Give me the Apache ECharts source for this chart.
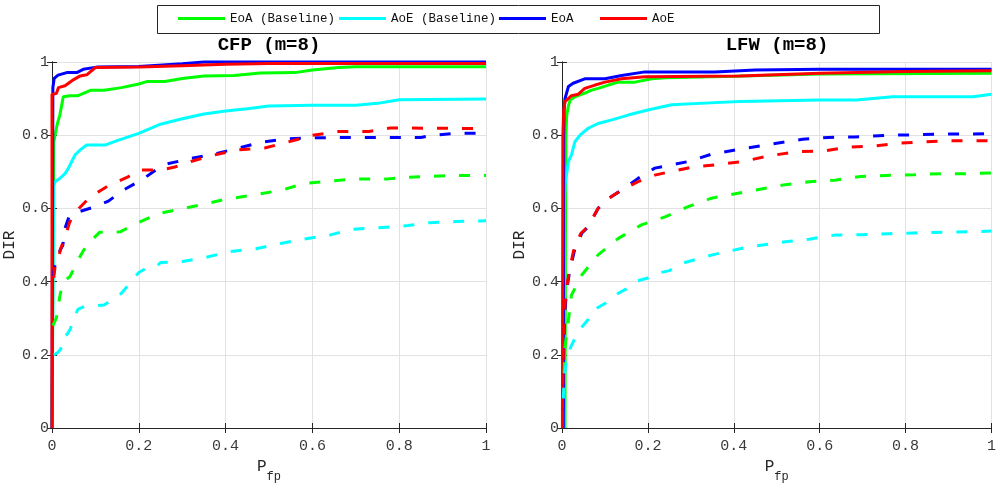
<!DOCTYPE html>
<html>
<head>
<meta charset="utf-8">
<title>DIR vs Pfp</title>
<style>
  html, body { margin: 0; padding: 0; background: #fff; }
  #chart { width: 999px; height: 491px; }
</style>
<script src="https://cdn.jsdelivr.net/npm/echarts@6/dist/echarts.min.js"></script>
</head>
<body>
<div id="chart"></div>
<script>
const seriesNames = ['EoA (Baseline)', 'AoE (Baseline)', 'EoA', 'AoE']
const seriesColors = ['#00ff00', '#00ffff', '#0000ff', '#ff0000']
const panelTitles = ['CFP (m=8)', 'LFW (m=8)']
const axisMin = 0
const axisMax = 1
const tickStep = 0.2

// CFP, solid curves
const cfpEoaBase = [[0, 0], [0.004, 0.78], [0.007, 0.80], [0.012, 0.83], [0.018, 0.855], [0.022, 0.88], [0.026, 0.905], [0.04, 0.908], [0.06, 0.908], [0.09, 0.923], [0.12, 0.923], [0.16, 0.93], [0.2, 0.94], [0.22, 0.947], [0.26, 0.947], [0.3, 0.955], [0.35, 0.962], [0.42, 0.963], [0.48, 0.97], [0.56, 0.971], [0.6, 0.978], [0.66, 0.985], [0.7, 0.987], [1, 0.987]]
const cfpAoeBase = [[0, 0], [0.004, 0.66], [0.007, 0.673], [0.018, 0.682], [0.03, 0.695], [0.038, 0.71], [0.053, 0.746], [0.065, 0.76], [0.08, 0.773], [0.122, 0.773], [0.15, 0.785], [0.2, 0.805], [0.25, 0.83], [0.3, 0.845], [0.35, 0.858], [0.4, 0.866], [0.45, 0.872], [0.5, 0.88], [0.6, 0.882], [0.7, 0.882], [0.75, 0.887], [0.8, 0.897], [1, 0.899]]
const cfpEoa = [[0, 0], [0.002, 0.93], [0.005, 0.955], [0.014, 0.964], [0.034, 0.971], [0.057, 0.971], [0.072, 0.98], [0.103, 0.986], [0.2, 0.988], [0.3, 0.995], [0.35, 1], [1, 1]]
const cfpAoe = [[0, 0], [0, 0.912], [0.01, 0.914], [0.015, 0.93], [0.03, 0.935], [0.05, 0.952], [0.065, 0.962], [0.08, 0.965], [0.1, 0.985], [0.2, 0.986], [0.3, 0.99], [0.4, 0.994], [0.5, 0.996], [1, 0.996]]
// CFP, dashed curves
const cfpEoaBaseDash = [[0.002, 0.28], [0.01, 0.3], [0.018, 0.36], [0.025, 0.4], [0.041, 0.413], [0.06, 0.459], [0.08, 0.5], [0.11, 0.535], [0.157, 0.536], [0.2, 0.562], [0.249, 0.587], [0.295, 0.598], [0.341, 0.609], [0.4, 0.625], [0.46, 0.636], [0.53, 0.65], [0.58, 0.668], [0.64, 0.675], [0.7, 0.68], [0.77, 0.68], [0.82, 0.685], [0.88, 0.688], [0.93, 0.69], [1, 0.69]]
const cfpAoeBaseDash = [[0.004, 0.2], [0.012, 0.205], [0.02, 0.215], [0.025, 0.25], [0.035, 0.256], [0.042, 0.27], [0.05, 0.3], [0.06, 0.325], [0.075, 0.332], [0.12, 0.336], [0.16, 0.368], [0.2, 0.425], [0.215, 0.435], [0.24, 0.44], [0.25, 0.452], [0.3, 0.455], [0.35, 0.465], [0.41, 0.482], [0.47, 0.49], [0.53, 0.505], [0.58, 0.516], [0.64, 0.527], [0.69, 0.543], [0.75, 0.547], [0.82, 0.553], [0.87, 0.561], [0.93, 0.564], [1, 0.566]]
const cfpEoaDash = [[0.003, 0.415], [0.006, 0.44], [0.015, 0.477], [0.025, 0.5], [0.03, 0.546], [0.04, 0.58], [0.06, 0.59], [0.1, 0.605], [0.13, 0.62], [0.164, 0.65], [0.207, 0.678], [0.256, 0.719], [0.322, 0.737], [0.38, 0.75], [0.43, 0.765], [0.48, 0.78], [0.54, 0.79], [0.6, 0.793], [0.7, 0.794], [0.85, 0.794], [0.88, 0.8], [0.93, 0.805], [1, 0.805]]
const cfpAoeDash = [[0.004, 0.41], [0.007, 0.44], [0.012, 0.45], [0.02, 0.49], [0.03, 0.52], [0.04, 0.56], [0.05, 0.585], [0.076, 0.617], [0.1, 0.64], [0.127, 0.66], [0.175, 0.686], [0.2, 0.705], [0.25, 0.705], [0.283, 0.713], [0.32, 0.728], [0.37, 0.745], [0.43, 0.76], [0.49, 0.765], [0.54, 0.78], [0.6, 0.8], [0.66, 0.81], [0.73, 0.81], [0.78, 0.82], [1, 0.818]]

// LFW, solid curves
const lfwEoaBase = [[0.007, 0], [0.008, 0.5], [0.009, 0.8], [0.011, 0.855], [0.015, 0.88], [0.019, 0.896], [0.03, 0.905], [0.053, 0.915], [0.069, 0.923], [0.084, 0.928], [0.108, 0.937], [0.131, 0.945], [0.17, 0.945], [0.209, 0.954], [0.24, 0.957], [0.4, 0.961], [0.6, 0.967], [1, 0.969]]
const lfwAoeBase = [[0.004, 0], [0.005, 0.6], [0.007, 0.664], [0.015, 0.728], [0.022, 0.746], [0.03, 0.782], [0.042, 0.8], [0.061, 0.819], [0.084, 0.832], [0.116, 0.842], [0.154, 0.855], [0.2, 0.869], [0.255, 0.883], [0.356, 0.889], [0.414, 0.892], [0.6, 0.896], [0.685, 0.896], [0.77, 0.905], [0.957, 0.905], [1, 0.912]]
const lfwEoa = [[0.003, 0], [0.004, 0.8], [0.005, 0.87], [0.007, 0.9], [0.015, 0.933], [0.026, 0.942], [0.053, 0.954], [0.1, 0.954], [0.139, 0.963], [0.193, 0.973], [0.356, 0.973], [0.45, 0.978], [0.6, 0.98], [1, 0.98]]
const lfwAoe = [[0.001, 0], [0.002, 0.8], [0.004, 0.87], [0.007, 0.892], [0.022, 0.908], [0.038, 0.912], [0.053, 0.928], [0.077, 0.937], [0.1, 0.945], [0.139, 0.954], [0.193, 0.96], [0.414, 0.962], [0.6, 0.969], [0.8, 0.974], [1, 0.976]]
// LFW, dashed curves
const lfwEoaBaseDash = [[0.005, 0.15], [0.007, 0.222], [0.015, 0.295], [0.022, 0.363], [0.046, 0.418], [0.084, 0.473], [0.131, 0.518], [0.185, 0.555], [0.24, 0.577], [0.294, 0.605], [0.348, 0.628], [0.43, 0.646], [0.515, 0.664], [0.575, 0.673], [0.635, 0.677], [0.695, 0.687], [0.755, 0.69], [0.82, 0.692], [0.885, 0.695], [0.945, 0.695], [1, 0.697]]
const lfwAoeBaseDash = [[0.003, 0.08], [0.005, 0.14], [0.01, 0.18], [0.02, 0.22], [0.03, 0.245], [0.042, 0.27], [0.06, 0.295], [0.07, 0.32], [0.1, 0.34], [0.123, 0.363], [0.15, 0.38], [0.17, 0.4], [0.2, 0.41], [0.223, 0.423], [0.25, 0.43], [0.28, 0.45], [0.31, 0.46], [0.35, 0.473], [0.43, 0.494], [0.52, 0.509], [0.575, 0.516], [0.635, 0.527], [0.7, 0.528], [0.76, 0.531], [0.82, 0.533], [0.885, 0.535], [0.945, 0.536], [1, 0.538]]
const lfwEoaDash = [[0.002, 0.05], [0.004, 0.2], [0.006, 0.3], [0.01, 0.37], [0.018, 0.43], [0.03, 0.49], [0.046, 0.532], [0.061, 0.55], [0.084, 0.6], [0.108, 0.627], [0.139, 0.65], [0.177, 0.682], [0.216, 0.71], [0.294, 0.728], [0.348, 0.748], [0.43, 0.765], [0.5, 0.778], [0.56, 0.789], [0.62, 0.794], [0.68, 0.795], [0.76, 0.8], [0.82, 0.801], [0.88, 0.803], [0.95, 0.803], [1, 0.804]]
const lfwAoeDash = [[0.001, 0.05], [0.003, 0.2], [0.005, 0.3], [0.009, 0.37], [0.017, 0.43], [0.028, 0.49], [0.044, 0.532], [0.06, 0.55], [0.084, 0.6], [0.108, 0.627], [0.139, 0.65], [0.177, 0.673], [0.216, 0.691], [0.255, 0.701], [0.309, 0.714], [0.365, 0.72], [0.42, 0.728], [0.48, 0.743], [0.545, 0.755], [0.61, 0.757], [0.665, 0.767], [0.73, 0.771], [0.785, 0.778], [0.84, 0.782], [0.905, 0.785], [1, 0.785]]

const panels = [
  { solid: [cfpEoaBase, cfpAoeBase, cfpEoa, cfpAoe], dashed: [cfpEoaBaseDash, cfpAoeBaseDash, cfpEoaDash, cfpAoeDash] },
  { solid: [lfwEoaBase, lfwAoeBase, lfwEoa, lfwAoe], dashed: [lfwEoaBaseDash, lfwAoeBaseDash, lfwEoaDash, lfwAoeDash] }
]

const mono = 'Liberation Mono'
const ink = '#262626'
const grids = [
  { left: 52, top: 62, width: 434, height: 366 },
  { left: 562, top: 62, width: 430, height: 366 }
]
const legendLeft = [178, 339, 499, 600]

function valueAxis (gridIndex, position, main) {
  return {
    type: 'value',
    gridIndex: gridIndex,
    position: position,
    min: axisMin,
    max: axisMax,
    interval: tickStep,
    axisLine: { show: true, lineStyle: { color: ink, width: 1 } },
    axisTick: { show: true, inside: true, length: 5, lineStyle: { color: ink } },
    axisLabel: {
      show: main,
      margin: position === 'bottom' ? 11 : 3,
      fontFamily: mono,
      fontSize: 15,
      color: '#3a3a3a'
    },
    splitLine: { show: main, lineStyle: { color: '#e2e2e2', width: 1 } }
  }
}

const xAxes = []
const yAxes = []
grids.forEach((g, i) => {
  const bottom = valueAxis(i, 'bottom', true)
  bottom.name = '{p|P}{s|fp}'
  bottom.nameLocation = 'middle'
  bottom.nameGap = 31
  bottom.nameTextStyle = {
    rich: {
      p: { fontFamily: mono, fontSize: 16, color: ink, padding: [0, 0, 10, 0] },
      s: { fontFamily: mono, fontSize: 12, color: ink, padding: [10, 0, 0, 0] }
    }
  }
  xAxes.push(bottom, valueAxis(i, 'top', false))
  const left = valueAxis(i, 'left', true)
  left.name = 'DIR'
  left.nameLocation = 'middle'
  left.nameGap = 33
  left.nameTextStyle = { fontFamily: mono, fontSize: 16, color: ink }
  yAxes.push(left, valueAxis(i, 'right', false))
})

const series = []
panels.forEach((p, i) => {
  ['solid', 'dashed'].forEach(kind => {
    p[kind].forEach((data, k) => {
      series.push({
        name: seriesNames[k],
        type: 'line',
        xAxisIndex: i * 2,
        yAxisIndex: i * 2,
        data: data,
        symbol: 'none',
        showSymbol: false,
        clip: false,
        color: seriesColors[k],
        lineStyle: { width: 3, color: seriesColors[k], type: kind === 'solid' ? 'solid' : [11, 14] },
        emphasis: { disabled: true }
      })
    })
  })
})

const option = {
  backgroundColor: '#fff',
  animation: false,
  title: panelTitles.map((t, i) => ({
    text: t,
    left: grids[i].left + grids[i].width / 2,
    top: 36,
    textAlign: 'center',
    padding: 0,
    textStyle: { fontFamily: mono, fontWeight: 'bold', fontSize: 19, color: '#000' }
  })),
  graphic: [{
    type: 'rect',
    z: -1,
    shape: { x: 157.5, y: 5.5, width: 722, height: 28 },
    style: { fill: '#fff', stroke: ink, lineWidth: 1 }
  }],
  legend: seriesNames.map((n, k) => ({
    data: [n],
    left: legendLeft[k],
    top: 12,
    padding: 0,
    icon: 'rect',
    itemWidth: 47,
    itemHeight: 3,
    itemStyle: { borderWidth: 0 },
    textStyle: { fontFamily: mono, fontSize: 12.5, color: '#111' }
  })),
  grid: grids,
  xAxis: xAxes,
  yAxis: yAxes,
  series: series
}

const chart = echarts.init(document.getElementById('chart'))
chart.setOption(option)
</script>
</body>
</html>
